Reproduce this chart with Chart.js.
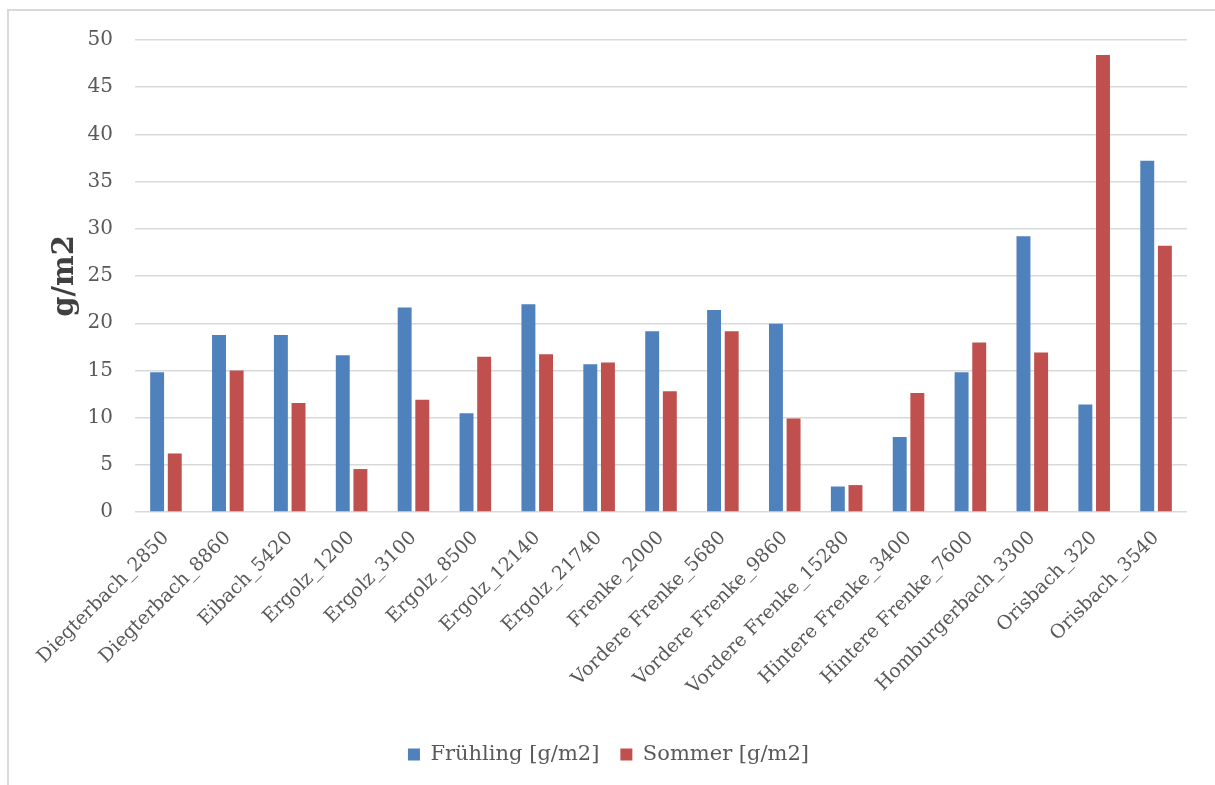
<!DOCTYPE html>
<html>
<head>
<meta charset="utf-8">
<script src="https://cdn.jsdelivr.net/npm/chart.js@4.4.1/dist/chart.umd.min.js"></script>
<style>
  html, body { margin: 0; padding: 0; background: #fff; }
  #wrap { position: relative; width: 1215px; height: 785px; overflow: hidden; }
  #frame { position: absolute; left: 7px; top: 9px; right: -10px; bottom: -10px;
           border-left: 2px solid #d9d9d9; border-top: 2px solid #d9d9d9; }
  #chart { position: absolute; left: 0; top: 0; }
</style>
</head>
<body>
<div id="wrap">
  <div id="frame"></div>
  <canvas id="chart" width="1215" height="785"></canvas>
</div>
<script>
// Messstellen
const stations = [
    'Diegterbach_2850', 'Diegterbach_8860', 'Eibach_5420', 'Ergolz_1200', 'Ergolz_3100',
    'Ergolz_8500', 'Ergolz_12140', 'Ergolz_21740', 'Frenke_2000', 'Vordere Frenke_5680',
    'Vordere Frenke_9860', 'Vordere Frenke_15280', 'Hintere Frenke_3400', 'Hintere Frenke_7600',
    'Homburgerbach_3300', 'Orisbach_320', 'Orisbach_3540'
];

// g/m2 pro Saison
const fruehling = [14.8, 18.75, 18.75, 16.6, 21.65, 10.45, 22.0, 15.65, 19.15, 21.4, 19.95, 2.7, 7.95, 14.8, 29.2, 11.4, 37.2];
const sommer    = [6.2, 15.0, 11.55, 4.55, 11.9, 16.45, 16.7, 15.85, 12.8, 19.15, 9.9, 2.85, 12.6, 17.95, 16.9, 48.4, 28.2];

const seriesNames = ['Frühling [g/m2]', 'Sommer [g/m2]'];
const seriesColors = ['#4f81bd', '#c0504d'];

const yMin = 0, yMax = 50, yStep = 5;

const serif = "'DejaVu Serif', 'Liberation Serif', serif";
const textColor = '#595959';

new Chart(document.getElementById('chart'), {
    type: 'bar',
    data: {
        labels: stations,
        datasets: [
            { label: seriesNames[0], data: fruehling, backgroundColor: seriesColors[0] },
            { label: seriesNames[1], data: sommer, backgroundColor: seriesColors[1] }
        ]
    },
    options: {
        responsive: false,
        animation: false,
        categoryPercentage: 0.57,
        barPercentage: 0.79,
        layout: { padding: { left: 30, right: 28, top: 40, bottom: 10 } },
        plugins: {
            tooltip: { enabled: false },
            legend: {
                position: 'bottom',
                labels: {
                    color: textColor,
                    font: { family: serif, size: 21 },
                    boxWidth: 12, boxHeight: 12,
                    padding: 21
                }
            }
        },
        scales: {
            x: {
                grid: { display: false },
                border: { display: false },
                ticks: {
                    color: textColor,
                    font: { family: serif, size: 19 },
                    maxRotation: 45, minRotation: 45,
                    autoSkip: false,
                    padding: 7
                },
                afterFit: (scale) => { scale.height = 211; }
            },
            y: {
                min: yMin, max: yMax,
                border: { display: false },
                grid: { color: '#d9d9d9', lineWidth: 1.4, drawTicks: false },
                ticks: {
                    stepSize: yStep,
                    color: textColor,
                    font: { family: serif, size: 20 },
                    padding: 22
                },
                title: {
                    display: true,
                    text: 'g/m2',
                    color: '#404040',
                    font: { family: serif, size: 29, weight: 'bold' },
                    padding: { top: 18, bottom: 0 }
                },
                afterFit: (scale) => { scale.width = 105; }
            }
        }
    }
});
</script>
</body>
</html>
